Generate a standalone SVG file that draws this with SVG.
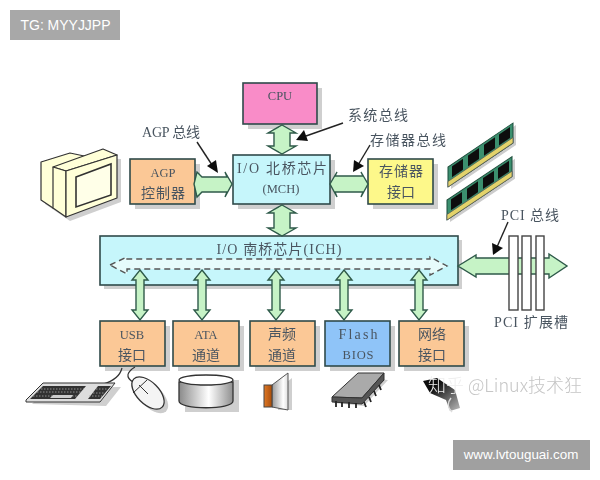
<svg xmlns="http://www.w3.org/2000/svg" width="600" height="480" viewBox="0 0 600 480">
<style>
.b{stroke:#2f4a4a;stroke-width:1.6}
.s{fill:#cfcfcf}
.a{fill:#c6f3c6;stroke:#2f5a4a;stroke-width:1.4;stroke-linejoin:miter}
.t{font-family:"Liberation Serif","Noto Sans CJK SC",serif;font-size:14px;fill:#4a5560;text-anchor:middle}
.u{font-size:12.500px}
.l{fill:none;stroke:#222;stroke-width:1.4}
.h{fill:#111}
.d{fill:#e6fbfb;stroke:#555;stroke-width:1.4;stroke-dasharray:6 4}
.w{font-family:"Liberation Sans",sans-serif;fill:#fff;text-anchor:middle}
.o{stroke:#333;stroke-width:1.2;stroke-linejoin:round}
.k{fill:#333}
.n{fill:none;stroke:#aaa;stroke-width:.8;stroke-dasharray:1.500 1.500}
.p{fill:#fff;stroke:#444;stroke-width:1.4}
</style>
<defs>
<filter id="soft" filterUnits="userSpaceOnUse" x="0" y="0" width="600" height="480"><feGaussianBlur stdDeviation=".45"/></filter>
<linearGradient id="cy"><stop offset="0" stop-color="#8a8a8a"/><stop offset=".55" stop-color="#fff"/><stop offset="1" stop-color="#8f8f8f"/></linearGradient>
<linearGradient id="sp"><stop offset="0" stop-color="#999"/><stop offset=".7" stop-color="#fff"/><stop offset="1" stop-color="#ddd"/></linearGradient>
<linearGradient id="or"><stop offset="0" stop-color="#e07a28"/><stop offset="1" stop-color="#a84c08"/></linearGradient>
<linearGradient id="pg" x1="0" y1="0" x2="1" y2="1"><stop offset=".3" stop-color="#111"/><stop offset="1" stop-color="#bbb"/></linearGradient>
<g id="ram">
<rect x="3" y="4" width="65" height="20" fill="#ccc"/>
<rect width="65" height="20" fill="#3a8f6e" stroke="#1d4a3a"/>
<rect y="14.500" width="65" height="5.500" fill="#e3d36a" stroke="#555" stroke-width=".6"/>
<rect x="4" y="2" width="11" height="11" fill="#111"/>
<rect x="20" y="2" width="11" height="11" fill="#111"/>
<rect x="36" y="2" width="11" height="11" fill="#111"/>
<rect x="51" y="2" width="11" height="11" fill="#111"/>
</g>
</defs>
<rect width="600" height="480" fill="#fff"/>
<g filter="url(#soft)">
<g id="monitor">
<path d="M45 166 74 157 121 159 121 202 70 221 45 204Z" class="s"/>
<path d="M41 162 70 153 103 160 53 208 41 200Z" fill="#ffffd8" class="o"/>
<path d="M53 167 103 149 117 155 66 171Z" fill="#ffffd8" class="o"/>
<path d="M53 167 66 171 66 217 53 208Z" fill="#ffffd8" class="o"/>
<path d="M66 171 117 155 117 198 66 217Z" fill="#ffffd8" class="o"/>
<path d="M76 177 111 164 111 195 76 207Z" fill="#ffffe8" stroke="#333" stroke-width="1.600"/>
</g>

<g id="ram1"><use href="#ram" transform="matrix(1 -.677 0 1 448 167)"/></g>
<g id="ram2"><use href="#ram" transform="matrix(1 -.667 0 1 447 200)"/></g>

<g id="cpu">
<rect class="s" x="248" y="88" width="74" height="41"/>
<rect class="b" x="243" y="83" width="74" height="41" fill="#f98cc8"/>
<text class="t u" x="280" y="100">CPU</text>
</g>
<g id="mch">
<rect class="s" x="238" y="160" width="97" height="49"/>
<rect class="b" x="233" y="155" width="97" height="49" fill="#c6f6fb"/>
<text class="t" x="282" y="173" textLength="90">I/O 北桥芯片</text>
<text class="t u" x="281" y="193">(MCH)</text>
</g>
<g id="agp">
<rect class="s" x="135" y="164" width="65" height="45"/>
<rect class="b" x="130" y="159" width="65" height="45" fill="#fbc896"/>
<text class="t u" x="163" y="177">AGP</text>
<text class="t" x="163" y="198" textLength="44">控制器</text>
</g>
<g id="mem">
<rect class="s" x="373" y="164" width="65" height="45"/>
<rect class="b" x="368" y="159" width="65" height="45" fill="#fdf88a"/>
<text class="t" x="401" y="176" textLength="44">存储器</text>
<text class="t" x="401" y="197" textLength="28">接口</text>
</g>
<g id="ich">
<rect class="s" x="104" y="240" width="358" height="49"/>
<rect class="b" x="100" y="236" width="358" height="49" fill="#c6f6fb"/>
<text class="t" x="279" y="254" textLength="125">I/O 南桥芯片(ICH)</text>
<path class="d" d="M110 265 127 257V259H430V257L447 266 430 275V269H127V274Z"/>
</g>
<g id="usb">
<rect class="s" x="105" y="326" width="65" height="45"/>
<rect class="b" x="100" y="321" width="65" height="45" fill="#fbc896"/>
<text class="t u" x="132" y="339">USB</text>
<text class="t" x="132" y="360" textLength="28">接口</text>
</g>
<g id="ata">
<rect class="s" x="178" y="326" width="66" height="45"/>
<rect class="b" x="173" y="321" width="66" height="45" fill="#fbc896"/>
<text class="t u" x="206" y="339">ATA</text>
<text class="t" x="206" y="360" textLength="28">通道</text>
</g>
<g id="audio">
<rect class="s" x="255" y="326" width="65" height="45"/>
<rect class="b" x="250" y="321" width="65" height="45" fill="#fbc896"/>
<text class="t" x="282" y="339" textLength="28">声频</text>
<text class="t" x="282" y="360" textLength="28">通道</text>
</g>
<g id="flash">
<rect class="s" x="330" y="326" width="65" height="45"/>
<rect class="b" x="325" y="321" width="65" height="45" fill="#8fc4f8"/>
<text class="t" x="358" y="339" textLength="39">Flash</text>
<text class="t u" x="358" y="359" textLength="31">BIOS</text>
</g>
<g id="net">
<rect class="s" x="404" y="326" width="65" height="45"/>
<rect class="b" x="399" y="321" width="65" height="45" fill="#fbc896"/>
<text class="t" x="432" y="339" textLength="28">网络</text>
<text class="t" x="432" y="360" textLength="28">接口</text>
</g>

<g id="connectors">
<path class="a" d="M282 125 296 133H290V146H296L282 154 268 146H274V133H268Z"/>
<path class="a" d="M282 205 296 213H290V228H296L282 236 268 228H274V213H268Z"/>
<path class="a" d="M197 172 202 177H227L225 172 232 184 225 197 227 192H202L197 197 194 184Z"/>
<path class="a" d="M330 184 337 172 335 176H363L361 172 368 184 361 197 363 192H335L337 197Z"/>
<path class="a" d="M458 266 476 255V258H549V254L567 266 549 278V274H476V277Z"/>
<path class="a" d="M140 270 148 280H144V310H148L140 320 132 310H136V280H132Z"/>
<path class="a" d="M202 270 210 280H206V310H210L202 320 194 310H198V280H194Z"/>
<path class="a" d="M276 270 284 280H280V310H284L276 320 268 310H272V280H268Z"/>
<path class="a" d="M344 270 352 280H348V310H352L344 320 336 310H340V280H336Z"/>
<path class="a" d="M419 270 427 280H423V310H427L419 320 411 310H415V280H411Z"/>
<rect class="p" x="509" y="236" width="9" height="74"/>
<rect class="p" x="522" y="236" width="9" height="74"/>
<rect class="p" x="536" y="236" width="8" height="74"/>
<path class="l" d="M197 142 214 168"/><path class="h" d="M218 173 207 166 216 160Z"/>
<path class="l" d="M343 123 306 136"/><path class="h" d="M296 140 304 130 308 141Z"/>
<path class="l" d="M370 145 358 165"/><path class="h" d="M353 172 354 160 364 166Z"/>
<path class="l" d="M508 222 497 247"/><path class="h" d="M493 255 492 243 503 248Z"/>
</g>

<g id="labels">
<text class="t" x="171" y="137" textLength="58">AGP 总线</text>
<text class="t" x="378" y="120" textLength="60">系统总线</text>
<text class="t" x="408" y="145" textLength="76">存储器总线</text>
<text class="t" x="530" y="220" textLength="58">PCI 总线</text>
<text class="t" x="531" y="327" textLength="74">PCI 扩展槽</text>
</g>

<g id="keyboard">
<path d="M122 368C120 376 114 381 103 384" fill="none" stroke="#333" stroke-width="1.200"/>
<path d="M32 404 49 387H121L106 406Z" class="s"/>
<path d="M26 400 43 383H115L100 402 26 402Z" fill="#ddd" stroke="#333"/>
<path class="k" d="M30 399 43 386H86L75 399Z"/>
<path class="k" d="M88 399 98 386H111L100 399Z"/>
<path class="n" d="M41 389H84M37 392H81M33 396H78M96 389H108M93 393H105M89 396H102"/>
<path d="M50 398 53 395H73L71 398Z" fill="#ccc"/>
</g>
<g id="mouse">
<path d="M135 367C127 372 125 377 133 382" fill="none" stroke="#333" stroke-width="1.200"/>
<ellipse cx="152" cy="397" rx="20" ry="11" transform="rotate(45 152 397)" fill="#ccc"/>
<ellipse cx="148" cy="393" rx="20" ry="11" transform="rotate(45 148 393)" fill="#f4f4f4" stroke="#333" stroke-width="1.300"/>
<path d="M133 393 147 380M139 385 148 394" fill="none" stroke="#333"/>
</g>
<g id="disk">
<rect x="185" y="380" width="54" height="32" class="s"/>
<path d="M179 382V401C179 410 233 410 233 401V382Z" fill="url(#cy)" stroke="#333" stroke-width="1.300"/>
<ellipse cx="206" cy="380" rx="27" ry="5" fill="#fff" stroke="#333" stroke-width="1.300"/>
</g>
<g id="speaker">
<path d="M278 389 292 378V410H278Z" class="s"/>
<path d="M272 385 288 373V410L272 407Z" fill="url(#sp)" stroke="#555"/>
<rect x="264" y="385" width="8" height="22" fill="url(#or)" stroke="#444"/>
</g>
<g id="chip">
<path d="M334 403 364 406 388 380 362 378Z" class="s"/>
<path d="M358 373H384L362 398 332 397Z" fill="#aaa" stroke="#333"/>
<path d="M332 397V402L362 404 384 380V373L362 398Z" fill="#555" stroke="#333"/>
<path d="M336 401V407M342 402V407M349 402V408M356 403V408M364 402 366 407M369 397 371 402M374 391 376 396M379 385 381 390" stroke="#222" stroke-width="1.800" fill="none"/>
</g>
<g id="plug">
<path d="M423 381 437 378 455 390 460 408 450 411 446 400 430 393Z" fill="url(#pg)"/>
<path d="M451 398C447 403 447 407 452 412" fill="none" stroke="#ddd" stroke-width="1.500"/>
</g>
</g>
<text id="wm" x="428" y="392" font-family="'Noto Sans CJK SC','Noto Sans',sans-serif" font-size="18" font-weight="300" fill="#c6c6c6" filter="url(#soft)"><tspan fill="#eee">知乎</tspan> @Linux技术狂</text>
<g id="tag1"><rect x="10" y="10" width="110" height="30" fill="#a8a8a8"/><text class="w" x="65.500" y="30" font-size="14" textLength="90">TG: MYYJJPP</text></g>
<g id="tag2"><rect x="453" y="440" width="137" height="30" fill="#a0a0a0"/><text class="w" x="521" y="459" font-size="13.400">www.lvtouguai.com</text></g>
</svg>
